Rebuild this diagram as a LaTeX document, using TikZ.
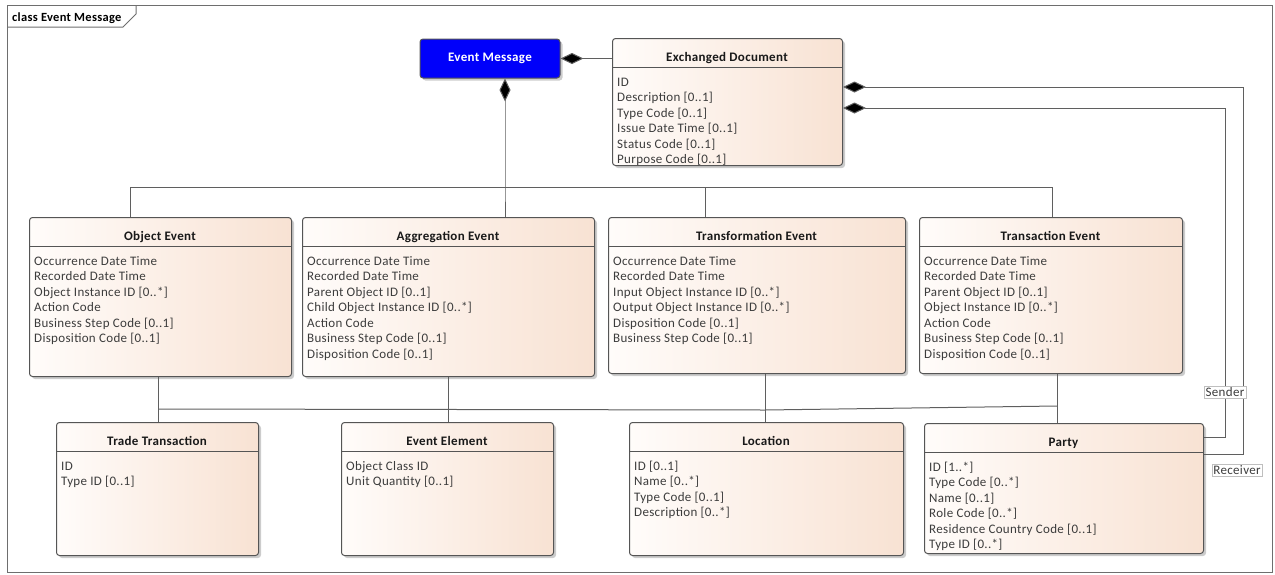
\documentclass[tikz,border=0pt]{standalone}
\usepackage{fontspec}
\setmainfont{Carlito}[LetterSpace=2.5]
\usetikzlibrary{arrows.meta,shadows}

\definecolor{peach}{RGB}{248,226,211}
\definecolor{peachlight}{RGB}{255,252,250}
\definecolor{boxedge}{RGB}{85,85,85}
\definecolor{attrcol}{RGB}{60,60,60}
\definecolor{wire}{RGB}{95,95,95}
\definecolor{framecol}{RGB}{110,110,110}
\definecolor{emblue}{RGB}{0,0,250}

\tikzset{
  classbox/.style={draw=boxedge, line width=1pt, rounded corners=3pt,
    left color=peachlight, right color=peach, anchor=north west, inner sep=0pt,
    drop shadow={shadow xshift=2.5pt, shadow yshift=-2.5pt, fill=black!40, opacity=0.5}},
  headline/.style={draw=boxedge, line width=1pt},
  titletext/.style={font=\fontsize{13}{15}\selectfont\bfseries, text=black!90, anchor=base, inner sep=0pt},
  attrtext/.style={font=\fontsize{13}{15}\selectfont, text=attrcol, anchor=base west, inner sep=0pt},
  wireline/.style={draw=wire, line width=1pt},
  comp/.style={wireline, {Diamond[length=23pt,width=11pt,fill=black]}-},
  rolelabel/.style={draw=black!25, line width=0.6pt, fill=white, font=\fontsize{13}{15}\selectfont,
    text=attrcol, inner sep=1.5pt},
}

% #1 name, #2 left, #3 top, #4 right, #5 bottom, #6 title, #7 attributes
\newcommand\umlclass[7]{%
  \node[classbox, minimum width={(#4-#2)*1pt}, minimum height={(#5-#3)*1pt}] (#1) at (#2,#3) {};
  \draw[headline] (#2,{#3+29.5}) -- (#4,{#3+29.5});
  \node[titletext] (#1-title) at ({(#2+#4)/2},{#3+23}) {#6};
  \foreach \attr [count=\i] in {#7}
    \node[attrtext] (#1-a\i) at ({#2+5},{#3+48+(\i-1)*15.5}) {\attr};
}

\begin{document}
\begin{tikzpicture}[x=1pt,y=-1pt]
\useasboundingbox (0,0) rectangle (1275,574);

% diagram frame with its name tab
\draw[framecol, line width=1pt] (7,5) rectangle (1272,572);
\draw[framecol, line width=1pt] (7,27) -- (123,27) -- (136,14) -- (136,5);
\node[font=\fontsize{12.5}{14}\selectfont\bfseries, anchor=base west, inner sep=0pt] (frametitle) at (12,21.5) {class Event Message};

% root class
\node[draw=boxedge, line width=1pt, rounded corners=3pt, fill=emblue, minimum width=140pt, minimum height=39pt,
  inner sep=0pt, text=white, font=\fontsize{13}{15}\selectfont\bfseries,
  drop shadow={shadow xshift=2.5pt, shadow yshift=-2.5pt, fill=black!40, opacity=0.5}] (em) at (490,58.5) {Event Message};

\umlclass{ed}{612}{38}{842}{165}{Exchanged Document}
  {{ID},{Description [0..1]},{Type Code [0..1]},{Issue Date Time [0..1]},{Status Code [0..1]},{Purpose Code [0..1]}}

\umlclass{oe}{29}{217}{291}{376}{Object Event}
  {{Occurrence Date Time},{Recorded Date Time},{Object Instance ID [0..*]},{Action Code},{Business Step Code [0..1]},{Disposition Code [0..1]}}
\umlclass{ag}{302}{217}{594}{376}{Aggregation Event}
  {{Occurrence Date Time},{Recorded Date Time},{Parent Object ID [0..1]},{Child Object Instance ID [0..*]},{Action Code},{Business Step Code [0..1]},{Disposition Code [0..1]}}
\umlclass{tf}{608}{217}{905}{373}{Transformation Event}
  {{Occurrence Date Time},{Recorded Date Time},{Input Object Instance ID [0..*]},{Output Object Instance ID [0..*]},{Disposition Code [0..1]},{Business Step Code [0..1]}}
\umlclass{tx}{919}{217}{1182}{373}{Transaction Event}
  {{Occurrence Date Time},{Recorded Date Time},{Parent Object ID [0..1]},{Object Instance ID [0..*]},{Action Code},{Business Step Code [0..1]},{Disposition Code [0..1]}}

\umlclass{tt}{56}{422}{258}{555}{Trade Transaction}
  {{ID},{Type ID [0..1]}}
\umlclass{ee}{341}{422}{553}{555}{Event Element}
  {{Object Class ID},{Unit Quantity [0..1]}}
\umlclass{lo}{629}{422}{903}{555}{Location}
  {{ID [0..1]},{Name [0..*]},{Type Code [0..1]},{Description [0..*]}}
\umlclass{pa}{924}{423}{1203}{553}{Party}
  {{ID [1..*]},{Type Code [0..*]},{Name [0..1]},{Role Code [0..*]},{Residence Country Code [0..1]},{Type ID [0..*]}}

% junction points of the connector trees
\coordinate (jOE) at (130,187);
\coordinate (jEM) at (505,187);
\coordinate (jTF) at (705,187);
\coordinate (jTX) at (1052,187);
\coordinate (bL) at (158,409);
\coordinate (bM) at (765,410);
\coordinate (bR) at (1057,406);
\coordinate (rcv) at (1243,87);
\coordinate (snd) at (1225,108);

% Event Message compositions
\draw[comp] (em.east) -- (em.east -| ed.west);
\draw[comp] (em.south -| jEM) -- (jEM) -- (jEM |- ag.north);
\draw[wireline] (oe.north -| jOE) -- (jOE) -- (jTX) -- (tx.north -| jTX);
\draw[wireline] (jTF) -- (tf.north -| jTF);

% links between the events and the lower classes
\draw[wireline] (oe.south -| bL) -- (tt.north -| bL);
\draw[wireline] (bL) -- (bM) -- (bR);
\draw[wireline] (ag.south -| 448,0) -- (ee.north -| 448,0);
\draw[wireline] (tf.south -| bM) -- (lo.north -| bM);
\draw[wireline] (tx.south -| bR) -- (pa.north -| bR);

% party roles of the exchanged document
\draw[comp] (ed.east |- rcv) -- (rcv) -- (1243,454) -- (pa.east |- 0,454);
\draw[comp] (ed.east |- snd) -- (snd) -- (1225,437) -- (pa.east |- 0,437);
\node[rolelabel] (sender) at (1225,392) {Sender};
\node[rolelabel] (receiver) at (1237,470.5) {Receiver};
\end{tikzpicture}
\end{document}
